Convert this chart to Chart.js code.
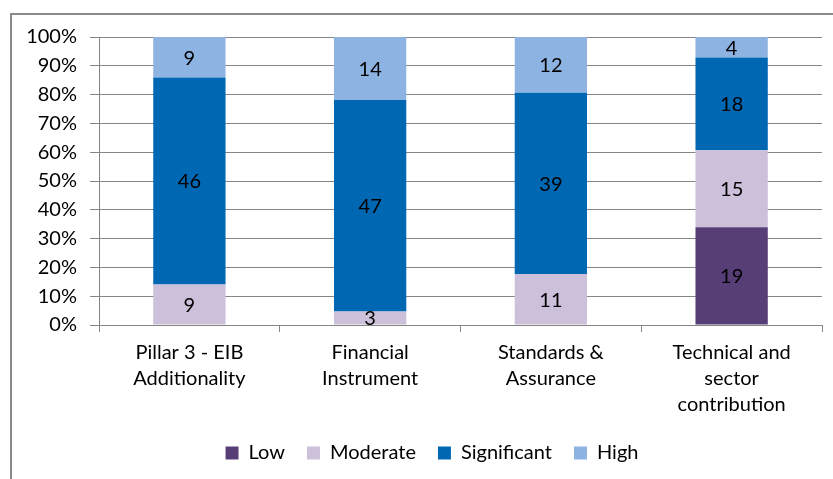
<!DOCTYPE html>
<html>
<head>
<meta charset="utf-8">
<script src="https://cdn.jsdelivr.net/npm/chart.js@4"></script>
<style>
  html, body { margin: 0; padding: 0; background: #ffffff; }
  #wrap { position: relative; width: 833px; height: 479px; }
</style>
</head>
<body>
<div id="wrap"><canvas id="chart" width="833" height="479"></canvas></div>
<script>
// Rating counts per area (bars are shown as % of each column)
const categories = [
  ["Pillar 3 - EIB", "Additionality"],
  ["Financial", "Instrument"],
  ["Standards &", "Assurance"],
  ["Technical and", "sector", "contribution"]
];
const lowCounts = [0, 0, 0, 19];
const moderateCounts = [9, 3, 11, 15];
const significantCounts = [46, 47, 39, 18];
const highCounts = [9, 14, 12, 4];
const yTickLabels = ["0%", "10%", "20%", "30%", "40%", "50%", "60%", "70%", "80%", "90%", "100%"];

const FONT = "Lato, 'Open Sans', sans-serif";
const FONT_SIZE = 20;

const allSeries = [lowCounts, moderateCounts, significantCounts, highCounts];
const totals = categories.map((_, i) => allSeries.reduce((sum, s) => sum + s[i], 0));
const toPercent = counts => counts.map((v, i) => (v / totals[i]) * 100);

// Draws the outer frame that the original picture was cropped from
const framePlugin = {
  id: "frame",
  beforeDraw(chart) {
    const ctx = chart.ctx;
    ctx.save();
    ctx.strokeStyle = "#8a8a8a";
    ctx.lineWidth = 2;
    ctx.beginPath();
    ctx.moveTo(11, chart.height);
    ctx.lineTo(11, 14);
    ctx.lineTo(chart.width, 14);
    ctx.stroke();
    ctx.restore();
  }
};

// The original legend sits a little right of the canvas centre
const legendShift = {
  id: "legendShift",
  afterLayout(chart) {
    if (!chart.legend) return;
    chart.legend.left += 21;
    chart.legend.right += 21;
  }
};

// Writes the raw counts inside each segment
const countLabels = {
  id: "countLabels",
  afterDatasetsDraw(chart) {
    const ctx = chart.ctx;
    ctx.save();
    ctx.font = FONT_SIZE + "px " + FONT;
    ctx.fillStyle = "#000000";
    ctx.textAlign = "center";
    ctx.textBaseline = "middle";
    chart.data.datasets.forEach((ds, di) => {
      const meta = chart.getDatasetMeta(di);
      meta.data.forEach((bar, i) => {
        const count = ds.counts[i];
        if (!count) return;
        ctx.fillText(String(count), bar.x, (bar.y + bar.base) / 2 + 1);
      });
    });
    ctx.restore();
  }
};

function makeDataset(label, counts, color) {
  return {
    label,
    counts,
    data: toPercent(counts),
    backgroundColor: color,
    borderWidth: 0,
    barPercentage: 0.8,
    categoryPercentage: 0.5
  };
}

new Chart(document.getElementById("chart"), {
  type: "bar",
  data: {
    labels: categories,
    datasets: [
      makeDataset("Low", lowCounts, "#583e77"),
      makeDataset("Moderate", moderateCounts, "#ccc0da"),
      makeDataset("Significant", significantCounts, "#0067b3"),
      makeDataset("High", highCounts, "#8db3e2")
    ]
  },
  options: {
    responsive: false,
    animation: false,
    layout: { padding: { top: 37, right: 11, left: 0, bottom: 6 } },
    plugins: {
      tooltip: { enabled: false },
      legend: {
        position: "bottom",
        labels: {
          font: { family: FONT, size: FONT_SIZE },
          color: "#000000",
          boxWidth: 13,
          boxHeight: 13,
          padding: 22,
          generateLabels(chart) {
            return chart.data.datasets.map((ds, i) => ({
              text: ds.label,
              fillStyle: ds.backgroundColor,
              strokeStyle: ds.backgroundColor,
              lineWidth: 0,
              datasetIndex: i
            }));
          }
        }
      }
    },
    scales: {
      x: {
        stacked: true,
        grid: {
          offset: true,
          drawOnChartArea: false,
          drawTicks: true,
          tickLength: 7,
          color: "#868686"
        },
        border: { display: true, color: "#868686" },
        ticks: {
          font: { family: FONT, size: FONT_SIZE, lineHeight: 1.3 },
          color: "#000000",
          padding: 8,
          maxRotation: 0
        },
        afterFit(scale) { scale.height = 96; }
      },
      y: {
        stacked: true,
        min: 0,
        max: 100,
        grid: { color: "#868686", tickLength: 9 },
        border: { display: true, color: "#868686" },
        ticks: {
          stepSize: 10,
          font: { family: FONT, size: FONT_SIZE },
          color: "#000000",
          padding: 13,
          callback: (v, i) => yTickLabels[i]
        },
        afterFit(scale) { scale.width = 99; }
      }
    }
  },
  plugins: [framePlugin, legendShift, countLabels]
});
</script>
</body>
</html>
